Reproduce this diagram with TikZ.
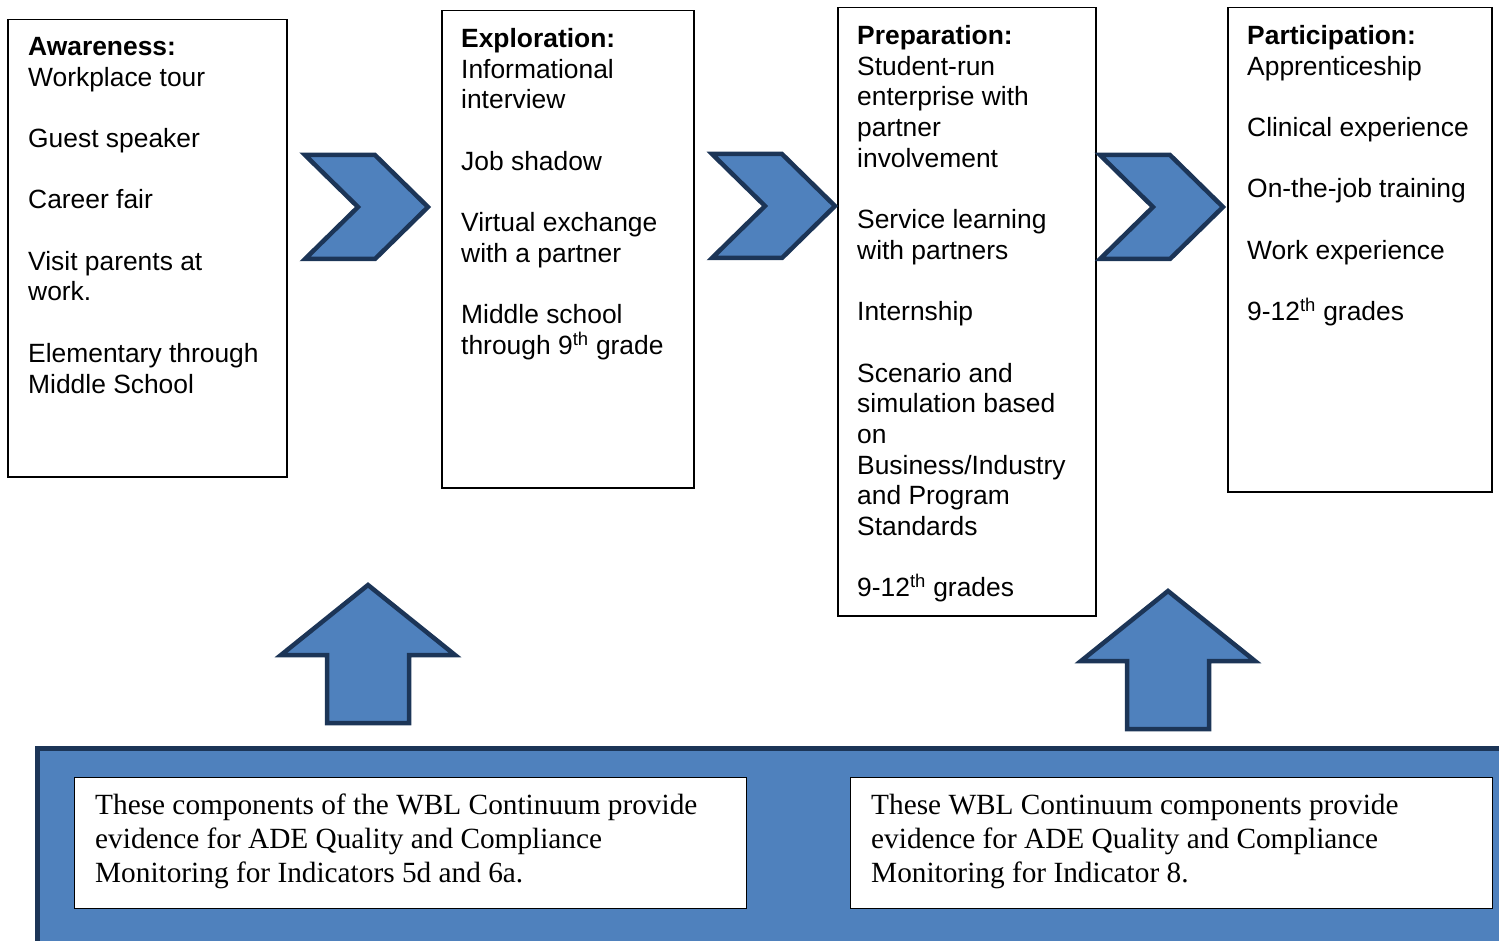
\documentclass[tikz,border=0pt]{standalone}
\usepackage{fontspec}
\setmainfont{Liberation Serif}
\setsansfont{Liberation Sans}
\usetikzlibrary{positioning}

\definecolor{wblblue}{HTML}{4F81BD}
\definecolor{wbldark}{HTML}{1C3557}

\tikzset{
  stagebox/.style={draw=black,line width=1.5pt,fill=white,inner sep=0pt,anchor=north west},
  stagetext/.style={font=\sffamily\fontsize{26.4}{30.7}\selectfont,align=left,anchor=north west,inner sep=0pt},
  arrowshape/.style={fill=wblblue,draw=wbldark,line width=4.5pt,line join=miter},
  notebox/.style={draw=black,line width=1.2pt,fill=white,inner sep=0pt,anchor=north west},
  notetext/.style={font=\fontsize{29.3}{34}\selectfont,align=left,anchor=north west,inner sep=0pt}
}

\begin{document}
\begin{tikzpicture}[x=1pt,y=-1pt]
\useasboundingbox (0,0) rectangle (1499,941);
\clip (0,0) rectangle (1499,941);

% stage boxes
\node[stagebox,minimum width=279pt,minimum height=457pt] (aware) at (7,19) {};
\node[stagebox,minimum width=252pt,minimum height=477pt] (explore) at (441,10) {};
\node[stagebox,minimum width=258pt,minimum height=608pt] (prep) at (837,7) {};
\node[stagebox,minimum width=264pt,minimum height=484pt] (partic) at (1227,7) {};

\node[stagetext] (awaretxt) at ([xshift=21pt,yshift=-18pt]aware.north west)
  {\textbf{Awareness:}\\ Workplace tour\\[30.7pt] Guest speaker\\[30.7pt] Career fair\\[30.7pt]
   Visit parents at\\ work.\\[30.7pt] Elementary through\\ Middle School};
\node[stagetext] (exploretxt) at ([xshift=20pt,yshift=-18pt]explore.north west)
  {\textbf{Exploration:}\\ Informational\\ interview\\[30.7pt] Job shadow\\[30.7pt]
   Virtual exchange\\ with a partner\\[30.7pt] Middle school\\ through 9\textsuperscript{th} grade};
\node[stagetext] (preptxt) at ([xshift=20pt,yshift=-18pt]prep.north west)
  {\textbf{Preparation:}\\ Student-run\\ enterprise with\\ partner\\ involvement\\[30.7pt]
   Service learning\\ with partners\\[30.7pt] Internship\\[30.7pt]
   Scenario and\\ simulation based\\ on\\ Business/Industry\\ and Program\\ Standards\\[30.7pt]
   9-12\textsuperscript{th} grades};
\node[stagetext] (partictxt) at ([xshift=20pt,yshift=-18pt]partic.north west)
  {\textbf{Participation:}\\ Apprenticeship\\[30.7pt] Clinical experience\\[30.7pt]
   On-the-job training\\[30.7pt] Work experience\\[30.7pt] 9-12\textsuperscript{th} grades};

% chevrons between the stages
\foreach \cx/\cy in {305/155, 712/154, 1100/155}
  \draw[arrowshape] (\cx,\cy) -- ++(70,0) -- ++(53,52) -- ++(-53,52) -- ++(-70,0)
    -- ++(53,-52) -- cycle;

% bottom band
\draw[fill=wblblue,draw=wbldark,line width=5pt] (37,748) rectangle (1530,980);

% up arrows
\foreach \ax/\ay in {368/585, 1168/591}
  \draw[arrowshape] (\ax,\ay) -- ++(87,70) -- ++(-46,0) -- ++(0,68) -- ++(-82,0)
    -- ++(0,-68) -- ++(-46,0) -- cycle;

% notes
\node[notebox,minimum width=672pt,minimum height=131pt] (leftnote) at (74,777) {};
\node[notebox,minimum width=642pt,minimum height=131pt] (rightnote) at (850,777) {};
\node[notetext] (lefttxt) at ([xshift=21pt,yshift=-17pt]leftnote.north west)
  {These components of the WBL Continuum provide\\ evidence for ADE Quality and Compliance\\
   Monitoring for Indicators 5d and 6a.};
\node[notetext] (righttxt) at ([xshift=21pt,yshift=-17pt]rightnote.north west)
  {These WBL Continuum components provide\\ evidence for ADE Quality and Compliance\\
   Monitoring for Indicator 8.};
\end{tikzpicture}
\end{document}
